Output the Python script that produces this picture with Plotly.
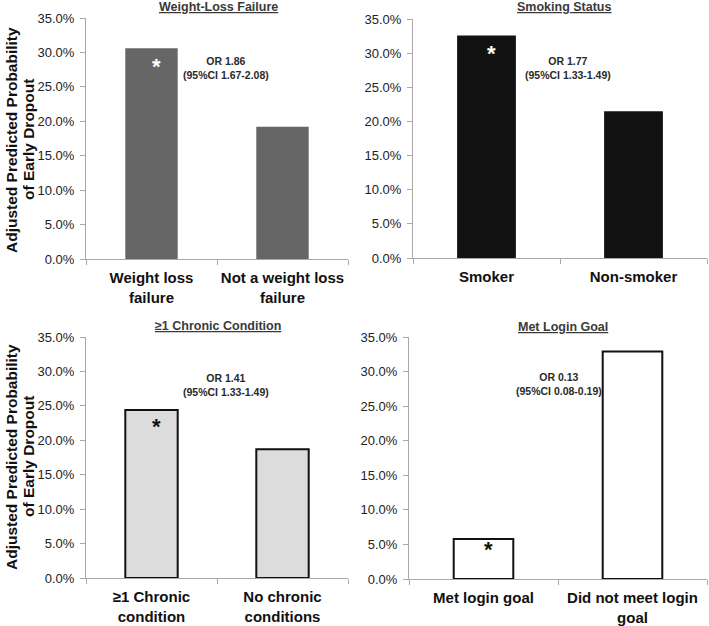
import plotly.graph_objects as go

# ---- data ----
titles = ["Weight-Loss Failure", "Smoking Status", "≥1 Chronic Condition", "Met Login Goal"]
cats_wl = ["Weight loss<br>failure", "Not a weight loss<br>failure"]
vals_wl = [0.306, 0.192]
cats_sm = ["Smoker", "Non-smoker"]
vals_sm = [0.326, 0.215]
cats_cc = ["≥1 Chronic<br>condition", "No chronic<br>conditions"]
vals_cc = [0.244, 0.187]
cats_lg = ["Met login goal", "Did not meet login<br>goal"]
vals_lg = [0.058, 0.329]
or_texts = ["OR 1.86<br>(95%CI 1.67-2.08)", "OR 1.77<br>(95%CI 1.33-1.49)",
            "OR 1.41<br>(95%CI 1.33-1.49)", "OR 0.13<br>(95%CI 0.08-0.19)"]
y_ticks = [0, 0.05, 0.10, 0.15, 0.20, 0.25, 0.30, 0.35]

W, H = 709, 626
FONT = "Liberation Sans, Arial, sans-serif"

def px_x(p):
    return p / W

def px_y(p):
    return 1 - p / H

panels = [
    dict(cats=cats_wl, vals=vals_wl, fill="#666666", line="#666666", lw=0,
         xd=(86, 348), yd=(259, 18), star="white", star_dy=-14),
    dict(cats=cats_sm, vals=vals_sm, fill="#121212", line="#121212", lw=0,
         xd=(413, 707), yd=(258, 19), star="white", star_dy=-14),
    dict(cats=cats_cc, vals=vals_cc, fill="#dcdcdc", line="#111111", lw=2,
         xd=(86, 348), yd=(578, 337), star="#111111", star_dy=-12),
    dict(cats=cats_lg, vals=vals_lg, fill="white", line="#111111", lw=2,
         xd=(409, 707), yd=(579, 337), star="#111111", star_dy=-6),
]

title_pos = [(218, 7), (564, 7), (218, 326), (563, 327)]
or_pos = [(226, 68), (568, 68), (226, 385), (559, 384)]

fig = go.Figure()
annotations = []
layout = {}
for i, p in enumerate(panels):
    n = i + 1
    xa = "x" if n == 1 else f"x{n}"
    ya = "y" if n == 1 else f"y{n}"
    fig.add_trace(go.Bar(
        x=p["cats"], y=p["vals"], xaxis=xa, yaxis=ya, width=0.4,
        marker=dict(color=p["fill"], line=dict(color=p["line"], width=p["lw"])),
        showlegend=False, hoverinfo="skip"))
    xkey = "xaxis" if n == 1 else f"xaxis{n}"
    ykey = "yaxis" if n == 1 else f"yaxis{n}"
    layout[xkey] = dict(
        domain=[px_x(p["xd"][0]), px_x(p["xd"][1])], anchor=ya,
        automargin=False, tickangle=0, ticklabelstandoff=5,
        showline=True, linecolor="#a8a8a8", linewidth=1,
        ticks="outside", tickson="boundaries", ticklen=5, tickcolor="#a8a8a8",
        showgrid=False, zeroline=False, fixedrange=True,
        tickvals=p["cats"], ticktext=[f"<b>{c}</b>" for c in p["cats"]],
        tickfont=dict(family=FONT, size=15, color="#111111"),
        type="category")
    layout[ykey] = dict(
        domain=[px_y(p["yd"][0]), px_y(p["yd"][1])], anchor=xa,
        automargin=False, ticklabelstandoff=3,
        range=[0, 0.35], tickvals=y_ticks, tickformat=".1%",
        showline=True, linecolor="#a8a8a8", linewidth=1,
        ticks="outside", ticklen=5, tickcolor="#a8a8a8",
        showgrid=False, zeroline=False, fixedrange=True,
        tickfont=dict(family=FONT, size=13, color="#222222"))
    # title
    tx, ty = title_pos[i]
    annotations.append(dict(
        x=px_x(tx), y=px_y(ty), xref="paper", yref="paper", showarrow=False,
        text=f"<b><u>{titles[i]}</u></b>", xanchor="center", yanchor="middle",
        font=dict(family=FONT, size=12.5, color="#3a3a3a")))
    # OR text
    ox, oy = or_pos[i]
    annotations.append(dict(
        x=px_x(ox), y=px_y(oy), xref="paper", yref="paper", showarrow=False,
        text=f"<b>{or_texts[i]}</b>", xanchor="center", yanchor="middle",
        font=dict(family=FONT, size=10.5, color="#2a2a2a")))
    # asterisk on first bar
    annotations.append(dict(
        x=p["cats"][0], y=p["vals"][0], xref=xa, yref=ya, showarrow=False,
        text="<b>*</b>", xanchor="center", yanchor="top", xshift=5,
        yshift=p["star_dy"] + 10,
        font=dict(family=FONT, size=22, color=p["star"])))

# y-axis titles (two lines each)
for cy in (140, 457):
    annotations.append(dict(
        x=px_x(11), y=px_y(cy), xref="paper", yref="paper", showarrow=False,
        text="<b>Adjusted Predicted Probability</b>", textangle=-90,
        xanchor="center", yanchor="middle",
        font=dict(family=FONT, size=15.5, color="#111111")))
    annotations.append(dict(
        x=px_x(28), y=px_y(cy), xref="paper", yref="paper", showarrow=False,
        text="<b>of Early Dropout</b>", textangle=-90,
        xanchor="center", yanchor="middle",
        font=dict(family=FONT, size=15.5, color="#111111")))

fig.update_layout(
    width=W, height=H, margin=dict(l=0, r=0, t=0, b=0),
    paper_bgcolor="white", plot_bgcolor="white",
    font=dict(family=FONT), annotations=annotations, **layout)

fig.write_html("out.html", config={"displayModeBar": False},
               post_script="document.body.style.margin='0';document.body.style.overflow='hidden';")
